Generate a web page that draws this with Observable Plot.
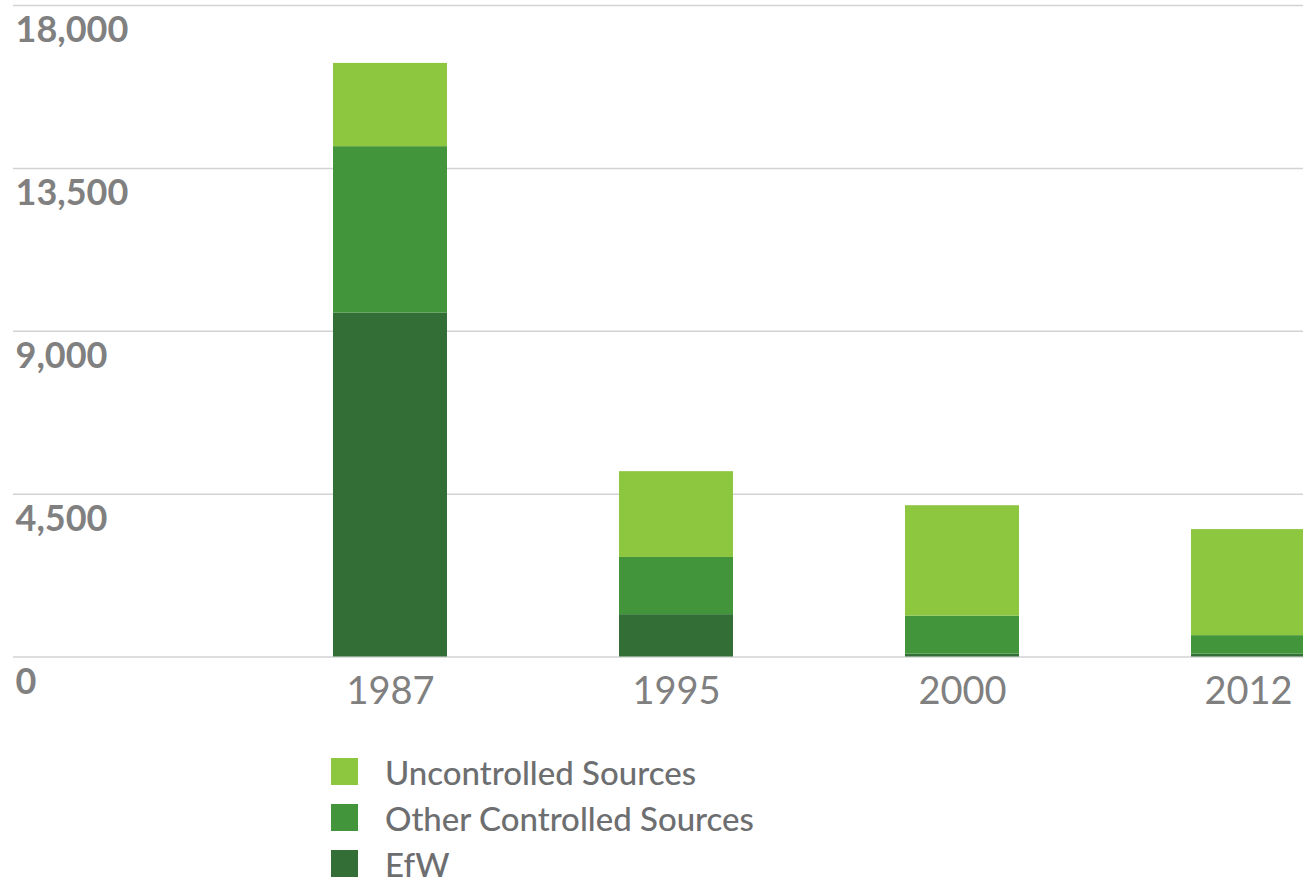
<!DOCTYPE html>
<html>
<head>
<meta charset="utf-8">
<script src="https://cdn.jsdelivr.net/npm/d3@7"></script>
<script src="https://cdn.jsdelivr.net/npm/@observablehq/plot@0.6"></script>
<style>
  body { margin: 0; background: #fff; overflow: hidden; font-family: Lato, "Open Sans", sans-serif; }
  #chart { width: 1303px; height: 730px; overflow: hidden; }
  #legend { position: absolute; left: 331px; top: 758px; }
  .row { display: flex; align-items: center; height: 27px; margin-bottom: 19px; }
  .swatch { width: 27px; height: 27px; flex: none; }
  .label { margin-left: 27px; font-size: 33px; font-weight: 500; color: #6d6e70; line-height: 27px; position: relative; top: 1px; }
</style>
</head>
<body>
<div id="chart"></div>
<div id="legend"></div>
<script>
// Emissions by source, stacked per year
const years = ["1987", "1995", "2000", "2012"];
const efw = [9500, 1170, 80, 80];
const otherControlled = [4600, 1580, 1050, 510];
const uncontrolled = [2300, 2370, 3050, 2930];

const sources = ["EfW", "Other Controlled Sources", "Uncontrolled Sources"];
const sourceColors = ["#336e37", "#43953b", "#8dc63f"];
const yTicks = [0, 4500, 9000, 13500, 18000];

// Long-form table, bottom segment first so it stacks from the baseline
const rows = [];
years.forEach((year, i) => {
  rows.push({year, source: sources[0], value: efw[i]});
  rows.push({year, source: sources[1], value: otherControlled[i]});
  rows.push({year, source: sources[2], value: uncontrolled[i]});
});

const fmt = d3.format(",");

const chart = Plot.plot({
  width: 1303,
  height: 730,
  marginTop: 5,
  marginBottom: 73.5,
  marginLeft: 13,
  marginRight: 0,
  style: { background: "#fff", fontFamily: "Lato, 'Open Sans', sans-serif" },
  // last band runs past the right edge and is clipped there
  x: { domain: years, range: [160, 1478], padding: 0.6, axis: null },
  y: { domain: [0, 18000], axis: null },
  color: { domain: sources, range: sourceColors },
  marks: [
    Plot.ruleY(yTicks, { stroke: "#d3d3d3", strokeWidth: 1.5 }),
    Plot.barY(rows, { x: "year", y: "value", fill: "source" }),
    Plot.text(yTicks, {
      y: d => d,
      text: d => fmt(d),
      frameAnchor: "left",
      textAnchor: "start",
      lineAnchor: "top",
      dx: 2,
      dy: 11,
      fontSize: 36,
      fontWeight: 700,
      fill: "#808080"
    }),
    Plot.axisX({
      label: null,
      tickSize: 0,
      tickPadding: 20,
      fontSize: 38,
      fontWeight: 400,
      fill: "#808080"
    })
  ]
});
document.getElementById("chart").appendChild(chart);

// Legend, top entry first
const legend = d3.select("#legend");
[2, 1, 0].forEach(i => {
  const row = legend.append("div").attr("class", "row");
  row.append("div").attr("class", "swatch").style("background", sourceColors[i]);
  row.append("div").attr("class", "label").text(sources[i]);
});
</script>
</body>
</html>
